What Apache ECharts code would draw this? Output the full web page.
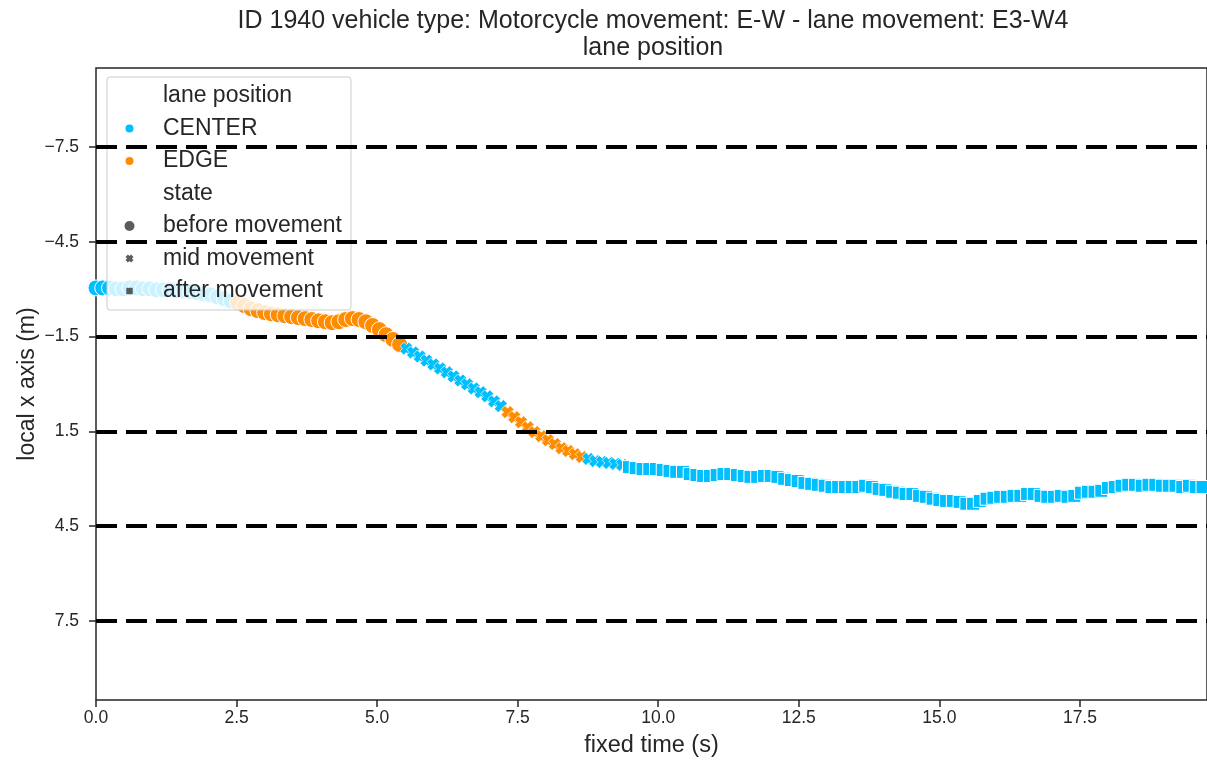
<!DOCTYPE html>
<html>
<head>
<meta charset="utf-8">
<script src="https://cdn.jsdelivr.net/npm/echarts@6/dist/echarts.min.js"></script>
<style>
  html, body { margin: 0; padding: 0; background: #ffffff; }
  #chart { width: 1207px; height: 765px; }
</style>
</head>
<body>
<div id="chart"></div>
<script>
// Track of vehicle 1940: [fixed time (s), local x (m)], grouped by lane position and state
const centerBefore = [
  [0.00, -3.04], [0.12, -3.04], [0.24, -3.04], [0.36, -3.01], [0.48, -3.01], [0.60, -3.04],
  [0.72, -3.04], [0.84, -3.01], [0.96, -3.01], [1.08, -2.98], [1.20, -2.98], [1.32, -2.98],
  [1.44, -2.95], [1.56, -2.95], [1.68, -2.92], [1.80, -2.89], [1.92, -2.85], [2.04, -2.82],
  [2.16, -2.76], [2.28, -2.70], [2.40, -2.63]
];
const edgeBefore = [
  [2.52, -2.57], [2.64, -2.48], [2.76, -2.38], [2.88, -2.32], [3.00, -2.26], [3.12, -2.22],
  [3.24, -2.19], [3.36, -2.16], [3.48, -2.13], [3.60, -2.10], [3.72, -2.07], [3.84, -2.04],
  [3.96, -2.00], [4.08, -1.97], [4.20, -1.94], [4.32, -1.97], [4.44, -2.04], [4.56, -2.07],
  [4.68, -2.04], [4.80, -1.97], [4.92, -1.85], [5.04, -1.72], [5.16, -1.56], [5.28, -1.41],
  [5.40, -1.25]
];
const centerMid = [
  [5.52, -1.12], [5.64, -1.00], [5.76, -0.87], [5.88, -0.74], [6.00, -0.62], [6.12, -0.49],
  [6.24, -0.37], [6.36, -0.24], [6.48, -0.11], [6.60, 0.01], [6.72, 0.14], [6.84, 0.26],
  [6.96, 0.39], [7.08, 0.55], [7.20, 0.70]
];
const edgeMid = [
  [7.32, 0.89], [7.44, 1.05], [7.56, 1.21], [7.68, 1.37], [7.80, 1.52], [7.92, 1.65],
  [8.04, 1.78], [8.16, 1.90], [8.28, 2.03], [8.40, 2.12], [8.52, 2.22], [8.64, 2.31]
];
const centerMidLate = [
  [8.76, 2.37], [8.88, 2.44], [9.00, 2.47], [9.12, 2.50], [9.24, 2.53], [9.36, 2.56]
];
const centerAfter = [
  [9.48, 2.63], [9.60, 2.66], [9.72, 2.69], [9.84, 2.69], [9.96, 2.69], [10.08, 2.72],
  [10.20, 2.75], [10.32, 2.78], [10.44, 2.78], [10.56, 2.85], [10.68, 2.88], [10.80, 2.91],
  [10.92, 2.91], [11.04, 2.88], [11.16, 2.85], [11.28, 2.85], [11.40, 2.88], [11.52, 2.91],
  [11.64, 2.94], [11.76, 2.94], [11.88, 2.91], [12.00, 2.91], [12.12, 2.94], [12.24, 3.00],
  [12.36, 3.04], [12.48, 3.07], [12.60, 3.13], [12.72, 3.16], [12.84, 3.19], [12.96, 3.22],
  [13.08, 3.26], [13.20, 3.26], [13.32, 3.26], [13.44, 3.26], [13.56, 3.26], [13.68, 3.22],
  [13.80, 3.26], [13.92, 3.32], [14.04, 3.35], [14.16, 3.41], [14.28, 3.44], [14.40, 3.48],
  [14.52, 3.48], [14.64, 3.54], [14.76, 3.57], [14.88, 3.63], [15.00, 3.67], [15.12, 3.70],
  [15.24, 3.70], [15.36, 3.73], [15.48, 3.79], [15.60, 3.79], [15.72, 3.70], [15.84, 3.63],
  [15.96, 3.60], [16.08, 3.57], [16.20, 3.57], [16.32, 3.54], [16.44, 3.54], [16.56, 3.48],
  [16.68, 3.48], [16.80, 3.54], [16.92, 3.57], [17.04, 3.57], [17.16, 3.54], [17.28, 3.57],
  [17.40, 3.54], [17.52, 3.44], [17.64, 3.41], [17.76, 3.41], [17.88, 3.38], [18.00, 3.29],
  [18.12, 3.26], [18.24, 3.22], [18.36, 3.19], [18.48, 3.19], [18.60, 3.22], [18.72, 3.19],
  [18.84, 3.19], [18.96, 3.22], [19.08, 3.22], [19.20, 3.22], [19.32, 3.26], [19.44, 3.22],
  [19.56, 3.26], [19.68, 3.26]
];

// Lane boundaries (also the y tick positions) and x ticks
const laneLines = [-7.5, -4.5, -1.5, 1.5, 4.5, 7.5];
const yTicks = [-7.5, -4.5, -1.5, 1.5, 4.5, 7.5];
const xTicks = [0, 2.5, 5, 7.5, 10, 12.5, 15, 17.5];
const xMax = 19.76;

const FONT = 'Liberation Sans, Arial, Helvetica, sans-serif';
const TEXT = '#262626';
const LANE_COLORS = { 'CENTER': '#00BFFF', 'EDGE': '#FF8C00' };
// filled, thick-armed cross
const X_PATH = 'path://M0,3L3,0L5,2L7,0L10,3L8,5L10,7L7,10L5,8L3,10L0,7L2,5Z';
const STATE_SYMBOL = { before: 'circle', mid: X_PATH, after: 'rect' };
const STATE_SIZE = { before: 16, mid: 13, after: 13 };

function segment(lane, state, points) {
  return {
    type: 'scatter',
    name: lane,
    data: points,
    symbol: STATE_SYMBOL[state],
    symbolSize: STATE_SIZE[state],
    itemStyle: { color: LANE_COLORS[lane], borderColor: '#ffffff', borderWidth: state === 'mid' ? 0.7 : 1, opacity: 1 },
    emphasis: { disabled: true },
    z: 2,
    animation: false
  };
}

function legendOnly(name, color, symbol) {
  return {
    type: 'scatter', name: name, data: [], symbol: symbol,
    itemStyle: { color: color }, animation: false
  };
}

const chart = echarts.init(document.getElementById('chart'), null, { renderer: 'canvas' });

chart.setOption({
  backgroundColor: '#ffffff',
  animation: false,
  title: {
    text: 'ID 1940 vehicle type: Motorcycle movement: E-W - lane movement: E3-W4\nlane position',
    left: 653,
    top: 8,
    padding: 0,
    textAlign: 'center',
    textStyle: { fontFamily: FONT, fontSize: 25, fontWeight: 'normal', color: TEXT, lineHeight: 27 }
  },
  grid: {
    left: 96, top: 68, width: 1112, height: 632,
    show: true, borderColor: TEXT, borderWidth: 1.5, backgroundColor: 'transparent'
  },
  xAxis: {
    type: 'value', min: 0, max: xMax,
    name: 'fixed time (s)', nameLocation: 'middle', nameGap: 34, nameMoveOverlap: false,
    nameTextStyle: { fontFamily: FONT, fontSize: 23.5, color: TEXT },
    axisLine: { show: false, onZero: false },
    axisTick: { show: true, length: 7, customValues: xTicks, lineStyle: { color: TEXT, width: 1.5 } },
    axisLabel: {
      customValues: xTicks, margin: 9, fontFamily: FONT, fontSize: 17.5, color: TEXT,
      formatter: function (v) { return v.toFixed(1); }
    },
    splitLine: { show: false }
  },
  yAxis: {
    type: 'value', inverse: true, min: -10, max: 10,
    name: 'local x axis (m)', nameLocation: 'middle', nameGap: 57, nameMoveOverlap: false,
    nameTextStyle: { fontFamily: FONT, fontSize: 23, color: TEXT },
    axisLine: { show: false, onZero: false },
    axisTick: { show: true, length: 7, customValues: yTicks, lineStyle: { color: TEXT, width: 1.5 } },
    axisLabel: {
      customValues: yTicks, margin: 17, fontFamily: FONT, fontSize: 17.5, color: TEXT,
      formatter: function (v) { return v.toFixed(1).replace('-', '\u2212'); }
    },
    splitLine: { show: false }
  },
  legend: {
    orient: 'vertical', left: 107, top: 77,
    padding: [6, 9, 6, 6],
    itemWidth: 33, itemHeight: 10, itemGap: 6.5,
    backgroundColor: 'rgba(255,255,255,0.8)',
    borderColor: '#cccccc', borderWidth: 1, borderRadius: 3,
    selectedMode: false,
    textStyle: { fontFamily: FONT, fontSize: 23, color: TEXT, lineHeight: 26, padding: [0, 0, 0, 12] },
    data: [
      { name: 'lane position', icon: 'none' },
      { name: 'CENTER', icon: 'circle' },
      { name: 'EDGE', icon: 'circle' },
      { name: 'state', icon: 'none' },
      { name: 'before movement', icon: 'circle' },
      { name: 'mid movement', icon: 'path://M0,0M10,10M1,3.4L3.4,1L5,2.6L6.6,1L9,3.4L7.4,5L9,6.6L6.6,9L5,7.4L3.4,9L1,6.6L2.6,5Z' },
      { name: 'after movement', icon: 'path://M0,0M10,10M1.8,1.8L8.2,1.8L8.2,8.2L1.8,8.2Z' }
    ]
  },
  series: [
    segment('CENTER', 'before', centerBefore),
    segment('EDGE', 'before', edgeBefore),
    segment('CENTER', 'mid', centerMid),
    segment('EDGE', 'mid', edgeMid),
    segment('CENTER', 'mid', centerMidLate),
    segment('CENTER', 'after', centerAfter),
    legendOnly('lane position', 'rgba(0,0,0,0)', 'circle'),
    legendOnly('state', 'rgba(0,0,0,0)', 'circle'),
    legendOnly('before movement', '#333333', 'circle'),
    legendOnly('mid movement', '#333333', X_PATH),
    legendOnly('after movement', '#333333', 'rect'),
    {
      type: 'scatter', name: 'lanes', data: [], z: 3, silent: true, animation: false,
      markLine: {
        silent: true, animation: false,
        symbol: ['none', 'none'],
        label: { show: false },
        emphasis: { disabled: true },
        lineStyle: { color: '#000000', width: 4, type: [21, 9], opacity: 1 },
        data: laneLines.map(function (v) { return { yAxis: v }; })
      }
    }
  ]
});
</script>
</body>
</html>
